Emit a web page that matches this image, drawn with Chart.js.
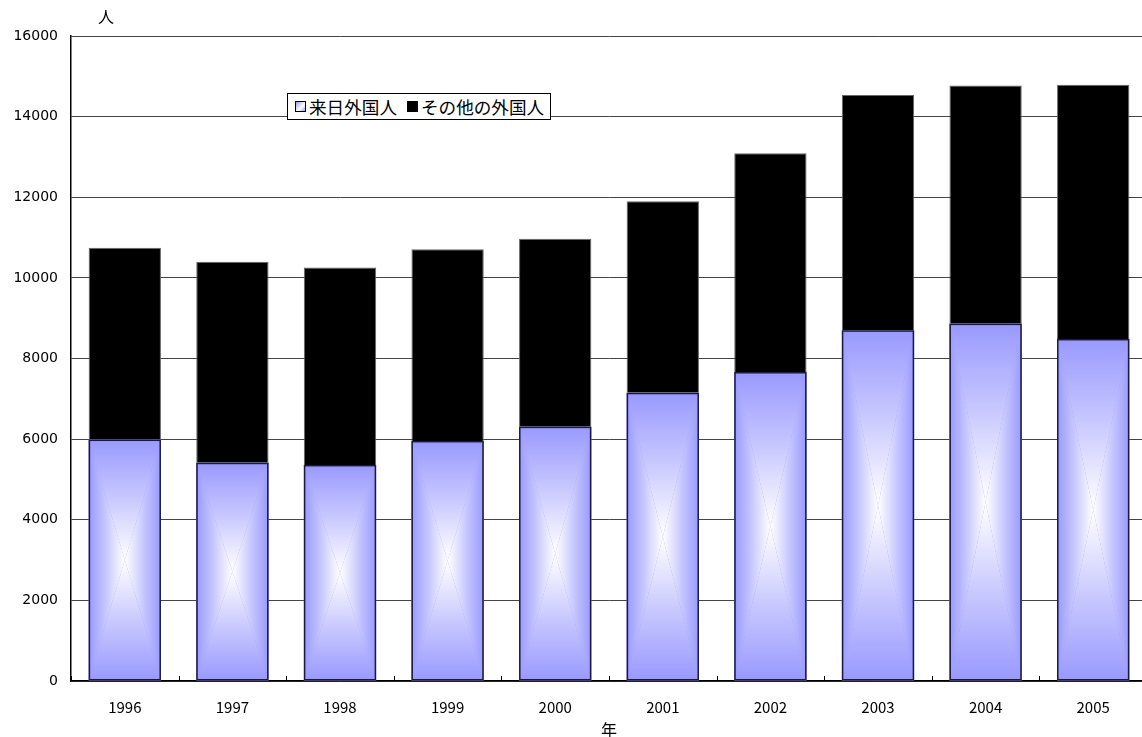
<!DOCTYPE html>
<html lang="ja">
<head>
<meta charset="utf-8">
<script src="https://cdn.jsdelivr.net/npm/chart.js@4/dist/chart.umd.min.js"></script>
<style>
  html, body { margin: 0; padding: 0; background: #fff; overflow: hidden; }
  #wrap { position: relative; width: 1142px; height: 737px; overflow: hidden; }
  canvas { display: block; }
  .unit { position: absolute; font-family: "Noto Sans CJK JP", sans-serif; font-size: 16px; color: #000; line-height: 1; }
  #legend {
    position: absolute; left: 287px; top: 93px; height: 25px; padding: 0 6px 0 7px;
    border: 1px solid #000; background: #fff; display: flex; align-items: center;
    font-family: "Noto Sans CJK JP", sans-serif; font-size: 17.6px; color: #000; white-space: nowrap;
  }
  #legend .sw { display: inline-block; width: 11px; height: 11px; border: 1px solid #000; margin-right: 3px; box-sizing: border-box; }
  #legend .item { display: inline-flex; align-items: center; margin-right: 10px; }
  #legend .item:last-child { margin-right: 0; }
</style>
</head>
<body>
<div id="wrap">
  <canvas id="chart" width="1147" height="737"></canvas>
  <div class="unit" style="left:98px; top:8px;">人</div>
  <div class="unit" style="left:601px; top:721px;">年</div>
  <div id="legend"></div>
</div>
<script>
// Years on the category axis
const years = ['1996', '1997', '1998', '1999', '2000', '2001', '2002', '2003', '2004', '2005'];
// Visiting foreigners (lower segment)
const visitingForeigners = [5990, 5415, 5360, 5955, 6310, 7150, 7665, 8700, 8865, 8485];
// Other foreigners (upper segment)
const otherForeigners = [4760, 4985, 4900, 4755, 4660, 4750, 5425, 5835, 5910, 6305];
// Series names
const seriesNames = ['来日外国人', 'その他の外国人'];
// Value axis ticks
const yTicks = [0, 2000, 4000, 6000, 8000, 10000, 12000, 14000, 16000];

const EDGE = '#9999ff';
const CENTER = '#ffffff';

// Fill a bar with a rectangular "from centre" gradient: white in the middle, blue at every edge.
function fillCenterGradient(ctx, left, top, right, bottom) {
  const cx = (left + right) / 2, cy = (top + bottom) / 2;
  const tri = (pts, x0, y0, x1, y1) => {
    const g = ctx.createLinearGradient(x0, y0, x1, y1);
    g.addColorStop(0, EDGE);
    g.addColorStop(0.45, '#c4c4ff');
    g.addColorStop(1, CENTER);
    ctx.beginPath();
    ctx.moveTo(pts[0][0], pts[0][1]);
    ctx.lineTo(pts[1][0], pts[1][1]);
    ctx.lineTo(pts[2][0], pts[2][1]);
    ctx.closePath();
    ctx.fillStyle = g;
    ctx.fill();
  };
  ctx.save();
  ctx.beginPath();
  ctx.rect(left, top, right - left, bottom - top);
  ctx.clip();
  tri([[left, top], [right, top], [cx, cy]], cx, top, cx, cy);
  tri([[left, bottom], [right, bottom], [cx, cy]], cx, bottom, cx, cy);
  tri([[left, top], [left, bottom], [cx, cy]], left, cy, cx, cy);
  tri([[right, top], [right, bottom], [cx, cy]], right, cy, cx, cy);
  ctx.restore();
}

const gradientBars = {
  id: 'gradientBars',
  afterDatasetsDraw(chart) {
    const ctx = chart.ctx;
    const meta = chart.getDatasetMeta(0);
    meta.data.forEach(bar => {
      const p = bar.getProps(['x', 'y', 'base', 'width'], true);
      const left = p.x - p.width / 2, right = p.x + p.width / 2;
      const top = Math.min(p.y, p.base), bottom = Math.max(p.y, p.base);
      fillCenterGradient(ctx, left, top, right, bottom);
      ctx.save();
      ctx.strokeStyle = '#1a1a40';
      ctx.lineWidth = 1.5;
      ctx.strokeRect(left + 0.75, top + 0.75, right - left - 1.5, bottom - top - 1.5);
      ctx.restore();
    });
  }
};

// Short tick marks between categories, drawn just above the category axis
const innerTicks = {
  id: 'innerTicks',
  afterDraw(chart) {
    const ctx = chart.ctx;
    const xs = chart.scales.x;
    const yb = chart.chartArea.bottom;
    ctx.save();
    ctx.strokeStyle = '#000';
    ctx.lineWidth = 1;
    for (let i = 0; i <= years.length; i++) {
      const px = Math.round(xs.getPixelForValue(i - 0.5)) + 0.5;
      ctx.beginPath();
      ctx.moveTo(px, yb);
      ctx.lineTo(px, yb - 5);
      ctx.stroke();
    }
    ctx.restore();
  }
};

new Chart(document.getElementById('chart'), {
  type: 'bar',
  data: {
    labels: years,
    datasets: [
      {
        label: seriesNames[0],
        data: visitingForeigners,
        backgroundColor: EDGE,
        borderColor: '#1a1a40',
        borderWidth: 0,
        barPercentage: 0.672,
        categoryPercentage: 1
      },
      {
        label: seriesNames[1],
        data: otherForeigners,
        backgroundColor: '#000000',
        borderColor: '#666666',
        borderWidth: 1,
        barPercentage: 0.672,
        categoryPercentage: 1
      }
    ]
  },
  options: {
    responsive: false,
    animation: false,
    events: [],
    layout: { padding: { top: 36, right: 0, left: 0, bottom: 0 } },
    plugins: {
      legend: { display: false },
      tooltip: { enabled: false }
    },
    scales: {
      x: {
        stacked: true,
        grid: { display: false },
        border: { color: '#000', width: 1.5 },
        ticks: {
          color: '#000',
          padding: 9,
          font: { family: '"Noto Sans CJK JP", sans-serif', size: 15 }
        },
        afterFit(scale) { scale.height = 56; }
      },
      y: {
        stacked: true,
        min: 0,
        max: 16000,
        afterBuildTicks(scale) { scale.ticks = yTicks.map(v => ({ value: v })); },
        grid: { color: '#444', lineWidth: 1, drawTicks: false },
        border: { color: '#000', width: 1.5 },
        ticks: {
          color: '#000',
          padding: 13,
          font: { family: '"DejaVu Sans", sans-serif', size: 14 },
          callback: v => String(v)
        },
        afterFit(scale) { scale.width = 71; }
      }
    }
  },
  plugins: [gradientBars, innerTicks]
});

// Legend box laid over the plot area
const legend = document.getElementById('legend');
const swatches = [
  'background: linear-gradient(135deg, #9999ff, #ffffff 60%, #9999ff);',
  'background: #000;'
];
seriesNames.forEach((name, i) => {
  const item = document.createElement('span');
  item.className = 'item';
  const sw = document.createElement('span');
  sw.className = 'sw';
  sw.setAttribute('style', swatches[i]);
  item.appendChild(sw);
  item.appendChild(document.createTextNode(name));
  legend.appendChild(item);
});
</script>
</body>
</html>
